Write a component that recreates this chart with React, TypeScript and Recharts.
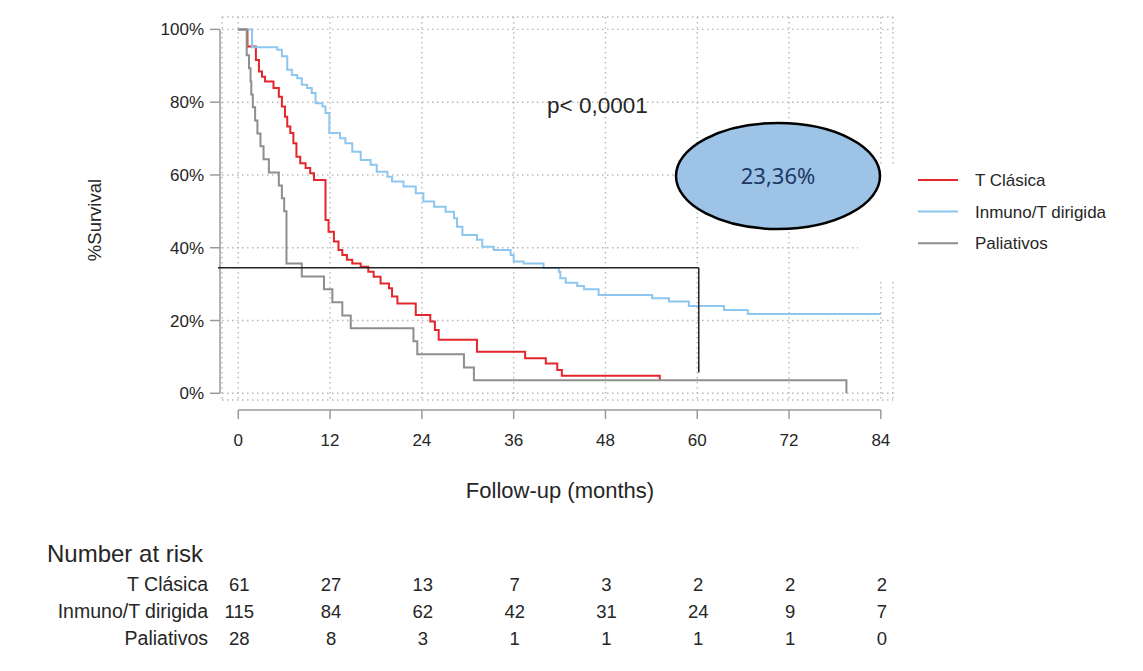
import React from 'react';
import { LineChart, Line, XAxis, YAxis, CartesianGrid, ReferenceLine } from 'recharts';

const monthTicks = [0, 12, 24, 36, 48, 60, 72, 84];
const survivalTicks = [0, 20, 40, 60, 80, 100];

const seriesNames = ['T Clásica', 'Inmuno/T dirigida', 'Paliativos'];
const seriesColors = ['#E3262B', '#8DC6EE', '#8E8E8E'];

// [month, % survival] step points
const tClasicaSteps: [number, number][] = [
  [0, 100], [1.2, 95.3], [2.3, 91.6], [2.7, 88.4], [3.1, 87.0], [3.5, 85.7], [4.6, 83.9],
  [5.3, 81.5], [5.7, 78.8], [6.1, 76.0], [6.4, 73.3], [6.8, 71.5], [7.2, 68.7], [7.6, 65.0],
  [8.1, 63.2], [8.8, 61.9], [9.4, 60.5], [9.9, 58.6], [11.4, 47.6], [11.8, 44.4], [12.5, 41.7],
  [13.1, 39.4], [13.6, 38.0], [14.2, 36.7], [14.9, 35.7], [16.0, 34.8], [17.0, 33.4], [17.7, 32.0],
  [18.6, 30.2], [19.7, 28.9], [20.1, 26.6], [20.8, 24.7], [23.2, 21.5], [25.1, 19.7], [25.7, 17.4],
  [26.2, 14.7], [31.2, 11.4], [37.5, 9.6], [40.2, 8.2], [41.7, 6.4], [42.3, 4.8], [55.1, 3.6],
];

const inmunoSteps: [number, number][] = [
  [0, 100], [1.8, 95.1], [5.1, 94.4], [5.7, 92.6], [6.4, 88.9], [7.0, 87.5], [7.7, 86.6],
  [8.3, 84.8], [9.0, 83.9], [9.6, 82.5], [10.1, 79.7], [11.0, 78.8], [11.4, 77.0], [11.9, 71.5],
  [13.3, 70.1], [14.0, 68.7], [14.9, 66.4], [16.0, 64.1], [17.3, 62.8], [18.1, 60.9], [19.5, 59.5],
  [20.1, 58.2], [21.6, 56.8], [23.2, 55.0], [24.2, 52.7], [25.6, 51.3], [27.1, 49.9], [28.2, 48.1],
  [28.6, 45.8], [29.3, 43.5], [31.2, 42.2], [31.9, 40.3], [33.4, 39.4], [35.6, 38.0], [36.0, 36.2],
  [37.3, 35.7], [39.9, 34.4], [41.9, 33.4], [42.1, 31.6], [42.8, 30.4], [44.3, 29.5], [45.2, 28.6],
  [47.1, 27.0], [54.1, 26.1], [56.3, 25.2], [58.9, 24.0], [63.5, 22.9], [66.6, 21.8], [84, 21.8],
];

const paliativosSteps: [number, number][] = [
  [0, 100], [1.1, 92.9], [1.4, 89.3], [1.6, 85.7], [1.7, 82.1], [1.9, 78.6], [2.2, 75.0],
  [2.5, 71.4], [2.9, 67.9], [3.3, 64.3], [4.0, 60.7], [5.3, 57.1], [5.7, 53.6], [6.0, 50.0],
  [6.3, 35.7], [8.3, 32.1], [11.2, 28.6], [12.3, 25.0], [13.6, 21.4], [14.7, 17.9], [22.9, 14.3],
  [23.4, 10.7], [29.5, 7.1], [30.8, 3.6], [79.5, 0],
];

const riskTClasica = [61, 27, 13, 7, 3, 2, 2, 2];
const riskInmuno = [115, 84, 62, 42, 31, 24, 9, 7];
const riskPaliativos = [28, 8, 3, 1, 1, 1, 1, 0];

const pValueText = 'p< 0,0001';
const highlightText = '23,36%';
const highlightSurvival = 34.5;
const highlightMonth = 60.2;
const highlightBottom = 5.7;

const W = 1143;
const H = 671;
const FONT = '"Liberation Sans", Arial, Helvetica, sans-serif';
const TXT = '#262626';
const AXIS = '#9a9a9a';

const toPoints = (steps: [number, number][]) => steps.map(([t, s]) => ({ t, s }));
const seriesData = [toPoints(tClasicaSteps), toPoints(inmunoSteps), toPoints(paliativosSteps)];
const riskRows = [riskTClasica, riskInmuno, riskPaliativos];

function XTick(props: any) {
  const { x, y, payload } = props;
  const i = monthTicks.indexOf(payload.value);
  return (
    <g>
      <line x1={x} x2={x} y1={y + 10} y2={y + 19} stroke={AXIS} strokeWidth={1.5} />
      <text x={x} y={y + 46} textAnchor="middle" fontSize={17} fill={TXT} fontFamily={FONT}>
        {payload.value}
      </text>
      {riskRows.map((row, k) => (
        <text key={k} x={x + 1} y={y + 191 + k * 27} textAnchor="middle" fontSize={18.5} fill={TXT} fontFamily={FONT}>
          {row[i]}
        </text>
      ))}
    </g>
  );
}

function YTick(props: any) {
  const { x, y, payload } = props;
  return (
    <g>
      <line x1={x - 12} x2={x - 2} y1={y} y2={y} stroke={AXIS} strokeWidth={1.5} />
      <text x={x - 18} y={y + 6} textAnchor="end" fontSize={17} fill={TXT} fontFamily={FONT}>
        {`${payload.value}%`}
      </text>
    </g>
  );
}

function Overlay() {
  return (
    <svg width={W} height={H} style={{ position: 'absolute', left: 0, top: 0, pointerEvents: 'none' }}>
      <defs>
        <clipPath id="legendClip">
          <rect x={0} y={0} width={1106} height={H} />
        </clipPath>
      </defs>
      <rect x={858} y={167} width={285} height={112} fill="#fff" />
      <ellipse cx={778} cy={176} rx={102} ry={53} fill="#9DC3E6" stroke="#000" strokeWidth={2.5} />
      <text x={778} y={184} textAnchor="middle" fontSize={22} fill="#1F3864" fontFamily='"Noto Sans", "Open Sans", sans-serif'>
        {highlightText}
      </text>
      <text x={547} y={113} fontSize={22.5} fill={TXT} fontFamily={FONT}>{pValueText}</text>
      <g clipPath="url(#legendClip)">
        {seriesNames.map((name, i) => (
          <g key={name}>
            <line x1={918} x2={958} y1={180 + i * 31.6} y2={180 + i * 31.6} stroke={seriesColors[i]} strokeWidth={2} />
            <text x={975} y={186 + i * 31.6} fontSize={17} fill={TXT} fontFamily={FONT}>{name}</text>
          </g>
        ))}
      </g>
      <text transform="translate(101,220) rotate(-90)" textAnchor="middle" fontSize={18.5} fill={TXT} fontFamily={FONT}>
        %Survival
      </text>
      <text x={560} y={498} textAnchor="middle" fontSize={22} fill={TXT} fontFamily={FONT}>Follow-up (months)</text>
      <text x={47} y={562} fontSize={24} fill={TXT} fontFamily={FONT}>Number at risk</text>
      {seriesNames.map((name, k) => (
        <text key={name} x={208} y={591 + k * 27} textAnchor="end" fontSize={19.5} fill={TXT} fontFamily={FONT}>{name}</text>
      ))}
    </svg>
  );
}

export default function App() {
  return (
    <div style={{ position: 'absolute', left: 0, top: 0, width: W, height: H, background: '#fff' }}>
      <LineChart width={W} height={H} margin={{ top: 17, right: 250, bottom: 241, left: 162 }}>
        <CartesianGrid stroke="#b8b8b8" strokeDasharray="1.5 3.5" strokeWidth={1.4} />
        <XAxis
          dataKey="t"
          type="number"
          domain={[-2.13, 85.59]}
          allowDataOverflow
          ticks={monthTicks}
          interval={0}
          axisLine={false}
          tickLine={false}
          tickSize={0}
          tickMargin={0}
          height={30}
          tick={<XTick />}
        />
        <YAxis
          type="number"
          domain={[-1.84, 103.41]}
          allowDataOverflow
          ticks={survivalTicks}
          interval={0}
          axisLine={false}
          tickLine={false}
          tickSize={0}
          tickMargin={0}
          width={60}
          tick={<YTick />}
        />
        <ReferenceLine ifOverflow="visible" segment={[{ x: -2.39, y: 0 }, { x: -2.39, y: 100 }]} stroke={AXIS} strokeWidth={1.5} />
        <ReferenceLine ifOverflow="visible" segment={[{ x: 0, y: -4.59 }, { x: 84, y: -4.59 }]} stroke={AXIS} strokeWidth={1.5} />
        {seriesData.map((d, i) => (
          <Line
            key={seriesNames[i]}
            data={d}
            dataKey="s"
            name={seriesNames[i]}
            type="stepAfter"
            stroke={seriesColors[i]}
            strokeWidth={2}
            dot={false}
            activeDot={false}
            isAnimationActive={false}
          />
        ))}
        <ReferenceLine ifOverflow="visible" segment={[{ x: -2.65, y: highlightSurvival }, { x: highlightMonth, y: highlightSurvival }]} stroke="#222" strokeWidth={1.5} />
        <ReferenceLine ifOverflow="visible" segment={[{ x: highlightMonth, y: highlightSurvival }, { x: highlightMonth, y: highlightBottom }]} stroke="#222" strokeWidth={1.5} />
      </LineChart>
      <Overlay />
    </div>
  );
}
